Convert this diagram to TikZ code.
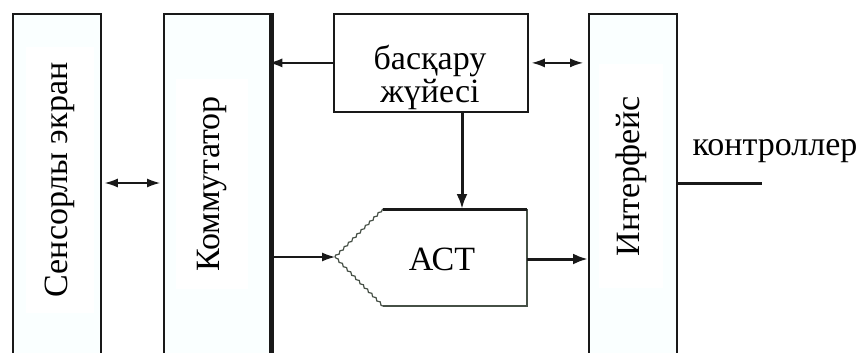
\documentclass[tikz,border=0pt]{standalone}
\usepackage{fontspec}
\setmainfont{Liberation Serif}
\usetikzlibrary{arrows.meta,decorations.pathmorphing}
\definecolor{panelfill}{RGB}{250,255,255}
\definecolor{edge}{RGB}{25,25,25}
\definecolor{softedge}{RGB}{70,80,70}
\begin{document}
\begin{tikzpicture}[x=1pt,y=-1pt,
  >={Latex[length=13,width=9]},
  panel/.style={draw=edge, line width=1.8, fill=panelfill, inner sep=0, anchor=north west},
  vlabel/.style={rotate=90, fill=white, inner sep=0, font=\fontsize{34}{33}\selectfont},
  txt/.style={inner sep=0, font=\fontsize{34}{33}\selectfont},
  link/.style={draw=edge, line width=1.3},
  heavy/.style={draw=edge, line width=3},
  bigtip/.style={-{Latex[length=15,width=11]}}
]
\useasboundingbox (0,0) rectangle (864,353);
\clip (0,0) rectangle (864,353);

% blocks
\node[panel, minimum width=88, minimum height=360] (screen) at (12,13) {};
\node[panel, minimum width=107, minimum height=360] (switch) at (163,13) {};
\node[panel, fill=white, minimum width=194, minimum height=98] (ctrl) at (333,13) {};
\node[panel, minimum width=88, minimum height=360] (iface) at (588,13) {};
\draw[edge, line width=5] (switch.north east) -- (switch.south east);

% block labels
\node[vlabel, minimum width=265, minimum height=68] (screentxt) at (60,180) {Сенсорлы экран};
\node[vlabel, minimum width=210, minimum height=72] (switchtxt) at (212,184) {Коммутатор};
\node[vlabel, minimum width=223, minimum height=64] (ifacetxt) at (631,176) {Интерфейс};
\node[txt, align=center] (ctrltxt) at (430,77) {басқару\\жүйесі};

% converter outline
\coordinate (adcTip) at (335,257);
\coordinate (adcTL) at (383,209);
\coordinate (adcTR) at (527,209);
\coordinate (adcBR) at (527,306);
\coordinate (adcBL) at (383,306);
\coordinate (adcTop) at (462,209);
\coordinate (adcOut) at (527,259);
\node[txt] (adc) at (442,259) {АСТ};
\draw[softedge, line width=1.3] (adcTR) -- (adcBR) -- (adcBL);
\draw[softedge, line width=1.2, decorate, decoration={snake, amplitude=0.9, segment length=6}] (adcBL) -- (adcTip);
\draw[softedge, line width=1.2, decorate, decoration={snake, amplitude=0.9, segment length=6}] (adcTip) -- (adcTL);
\draw[heavy] (adcTL) -- (adcTR);

% connections
\coordinate (busY) at (0,183);
\draw[link, <->, shorten <=3, shorten >=3] (screen.east |- busY) -- (switch.west |- busY);
\draw[link, ->, shorten >=-2.5] (ctrl.west) -- (switch.east |- ctrl.west);
\draw[link, <->, shorten <=3, shorten >=5] (ctrl.east) -- (iface.west |- ctrl.east);
\draw[heavy, bigtip] (adcTop |- ctrl.south) -- (adcTop);
\draw[link, ->, shorten <=2.5] (switch.east |- adcTip) -- (adcTip);
\draw[heavy, bigtip] (adcOut) -- (iface.west |- adcOut);

% output line
\coordinate (ctlEnd) at (762,183);
\draw[heavy] (iface.east |- ctlEnd) -- (ctlEnd);
\node[txt, anchor=base] (ctltxt) at (775,155) {контроллер};
\end{tikzpicture}
\end{document}
